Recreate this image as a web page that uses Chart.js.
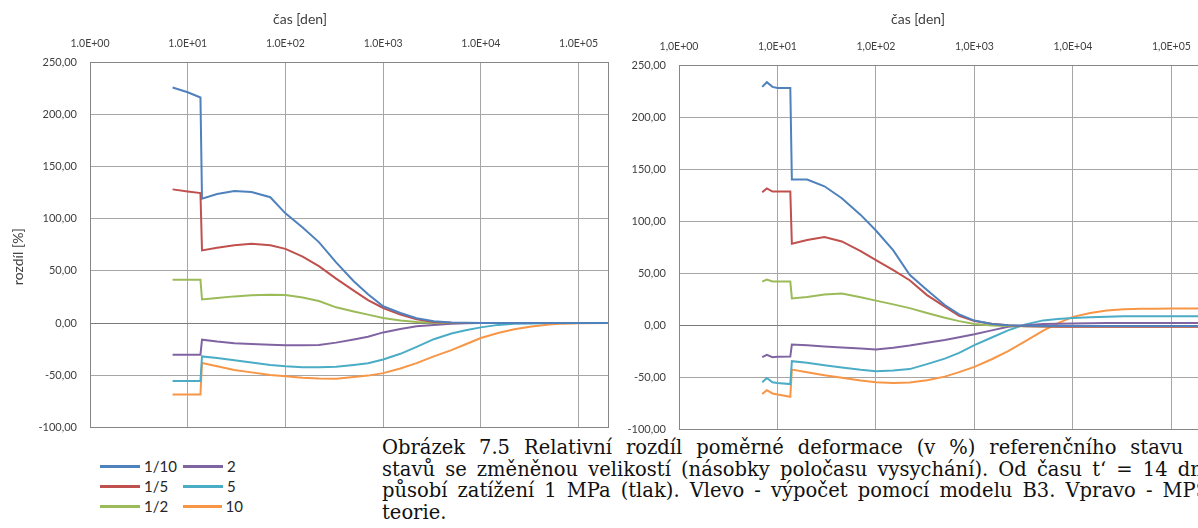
<!DOCTYPE html>
<html lang="cs">
<head>
<meta charset="utf-8">
<title>Relativní rozdíl poměrné deformace</title>
<script src="https://cdn.jsdelivr.net/npm/chart.js@4.4.1/dist/chart.umd.min.js"></script>
<style>
  html, body { margin: 0; padding: 0; background: #fff; }
  body { width: 1198px; height: 528px; overflow: hidden; position: relative; }
  #boxL { position: absolute; left: 0; top: 0; width: 612px; height: 434px; }
  #boxR { position: absolute; left: 612px; top: 0; width: 600px; height: 436px; }
  canvas { display: block; }
  #legend {
    position: absolute; left: 100px; top: 456px;
    display: grid; grid-auto-flow: column;
    grid-template-rows: repeat(3, 20px); grid-template-columns: 83px 60px;
    font: 15px Lato, sans-serif; color: #262626;
  }
  .item { display: flex; align-items: center; white-space: nowrap; }
  .swatch { width: 40px; height: 3px; margin-right: 4px; }
  #caption {
    position: absolute; left: 382px; top: 437px; width: 827px;
    font: 19.5px "DejaVu Serif", serif; line-height: 21.5px; color: #111;
  }
  #caption .ln { white-space: nowrap; text-align: justify; text-align-last: justify; }
  #caption .ln.last { text-align: left; text-align-last: left; }
</style>
</head>
<body>
<div id="boxL"><canvas id="chartL" width="612" height="434"></canvas></div>
<div id="boxR"><canvas id="chartR" width="600" height="436"></canvas></div>
<div id="legend"></div>
<div id="caption">
  <div class="ln">Obrázek 7.5 Relativní rozdíl poměrné deformace (v %) referenčního stavu a</div>
  <div class="ln">stavů se změněnou velikostí (násobky poločasu vysychání). Od času t‘ = 14 dní</div>
  <div class="ln">působí zatížení 1 MPa (tlak). Vlevo - výpočet pomocí modelu B3. Vpravo - MPS</div>
  <div class="ln last">teorie.</div>
</div>
<script>
// ---- series names and colours ----
const seriesNames  = ['1/10', '1/5', '1/2', '2', '5', '10'];
const seriesColors = ['#4F81BD', '#C0504D', '#9BBB59', '#8064A2', '#4BACC6', '#F79646'];

// ---- axis ticks ----
const timeDecades     = [1, 10, 100, 1000, 10000, 100000];
const timeLabelsLeft  = ['1.0E+00', '1.0E+01', '1.0E+02', '1.0E+03', '1.0E+04', '1.0E+05'];
const timeLabelsRight = ['1,0E+00', '1,0E+01', '1,0E+02', '1,0E+03', '1,0E+04', '1,0E+05'];
const diffTicks       = [-100, -50, 0, 50, 100, 150, 200, 250];

// ---- left panel: model B3 (time in days, difference in %) ----
const timeB3 = [7, 10, 13.5, 14, 20, 30, 45, 70, 100, 150, 220, 330, 500, 700,
                1000, 1500, 2200, 3300, 5000, 7000, 10000, 15000, 22000, 33000,
                50000, 70000, 100000, 200000];
const b3_1_10 = [225.5, 221, 216, 119, 123.5, 126.5, 125.5, 120.5, 105, 91.5, 77.5, 58, 40, 27.5,
                 16, 9.6, 4.5, 1.6, 0.5, 0.2, 0.1, 0, 0, 0, 0, 0, 0, 0];
const b3_1_5  = [128, 126, 124.5, 69.5, 72, 74.5, 76, 74.5, 71, 63.5, 54.5, 42.5, 31, 22,
                 14.4, 8, 3.5, 1, 0.3, 0.1, 0, 0, 0, 0, 0, 0, 0, 0];
const b3_1_2  = [41.5, 41.5, 41.5, 22.5, 24, 25.5, 26.5, 27, 26.8, 24.5, 21, 15, 11, 8,
                 4.8, 2.4, 0.9, 0.3, 0.1, 0, 0, 0, 0, 0, 0, 0, 0, 0];
const b3_2    = [-30.4, -30.4, -30.4, -16, -17.8, -19.3, -20.2, -20.8, -21.2, -21.4, -21, -18.8, -15.8, -13.2,
                 -9, -5.8, -3.2, -1.8, -0.7, -0.3, -0.1, 0, 0, 0, 0, 0, 0, 0];
const b3_5    = [-55.5, -55.5, -55.5, -32, -33.6, -35.6, -37.8, -40.2, -41.5, -42.3, -42.5, -42, -40.2, -38.5,
                 -35, -29.5, -22.8, -15.5, -10.1, -6.9, -4.2, -1.8, -0.8, -0.4, -0.1, 0, 0, 0];
const b3_10   = [-68.5, -68.5, -68.5, -38.3, -41.5, -45, -47.3, -49.7, -51.1, -52.4, -53.2, -53.3, -51.8, -50.4,
                 -48, -43.6, -38.4, -32, -26, -20.4, -14.4, -9.6, -6, -3.3, -1.4, -0.6, -0.2, 0];

// ---- right panel: MPS theory ----
const timeMPS = [7, 7.8, 8.9, 10, 13.5, 14, 20, 30, 45, 70, 100, 150, 220, 330, 500, 700,
                 1000, 1500, 2200, 3300, 5000, 7000, 10000, 15000, 22000, 33000,
                 50000, 70000, 100000, 200000];
const mps_1_10 = [229, 233.5, 229, 228, 228, 140, 140, 133.5, 122, 106, 91, 72, 48.5, 34, 19.5, 10.5,
                  4.5, 1.3, 0, -0.5, -0.7, -0.8, -0.8, -0.8, -0.8, -0.8, -0.8, -0.8, -0.8, -0.8];
const mps_1_5  = [127.7, 131.5, 128.4, 128.4, 128.4, 78.4, 82, 84.7, 80.5, 71.2, 62.5, 53, 43.3, 29, 18, 9,
                  4.2, 1.5, 0, -0.9, -1.2, -1.4, -1.4, -1.4, -1.4, -1.4, -1.4, -1.4, -1.4, -1.4];
const mps_1_2  = [42, 44, 42, 42, 42, 25.8, 27.2, 29.5, 30.6, 27, 23.7, 20.1, 16.5, 11.8, 7.3, 4,
                  1.3, -0.2, -0.8, -1, -1.1, -1.1, -1.1, -1.1, -1.1, -1.1, -1.1, -1.1, -1.1, -1.1];
const mps_2    = [-30.6, -28.4, -30.6, -30.3, -30, -18.4, -19.2, -20.3, -21.3, -22.4, -23.2, -21.5, -19.5, -16.8, -14.2, -11.5,
                  -8.7, -4.9, -1.5, 0.1, 1.2, 1.5, 1.7, 2, 2.1, 2.2, 2.3, 2.3, 2.3, 2.3];
const mps_5    = [-54.8, -50.6, -54.8, -55.5, -56.5, -34.5, -36, -38.3, -40.5, -42.8, -44.2, -43.5, -42.1, -37.3, -32, -26.5,
                  -19, -11.7, -4.9, 0.9, 4.7, 6.1, 7.1, 7.8, 8.3, 8.6, 8.7, 8.7, 8.7, 8.7];
const mps_10   = [-66, -62.3, -65.5, -66.5, -68.7, -42.6, -45.1, -47.9, -50.4, -53.1, -54.6, -55.4, -55, -52.7, -49.3, -45,
                  -40, -32.6, -24.8, -15.3, -5.2, 1.9, 8.1, 11.8, 14.3, 15.5, 15.9, 16, 16.1, 16.1];

const FONT = 'Lato, sans-serif';
const TEXT = '#404040';
const GRID = '#a6a6a6';
const FRAME = '#868686';

// closed frame around the plot area
const plotFrame = {
  id: 'plotFrame',
  afterDraw(chart) {
    const { ctx, chartArea: a } = chart;
    ctx.save();
    ctx.strokeStyle = FRAME;
    ctx.lineWidth = 1;
    const l = Math.round(a.left) + 0.5, t = Math.round(a.top) + 0.5;
    const r = Math.round(a.right) + 0.5, b = Math.round(a.bottom) + 0.5;
    ctx.strokeRect(l, t, r - l, b - t);
    ctx.restore();
  }
};

// axis captions: time caption above the labels, optional rotated value caption
const axisCaption = {
  id: 'axisCaption',
  afterDraw(chart, args, o) {
    const { ctx, chartArea: a } = chart;
    ctx.save();
    ctx.font = o.size + 'px ' + FONT;
    ctx.fillStyle = TEXT;
    ctx.textAlign = 'center';
    ctx.textBaseline = 'middle';
    ctx.fillText(o.text, (a.left + a.right) / 2 + o.shift, o.y);
    if (o.side) {
      ctx.translate(o.side.x, (a.top + a.bottom) / 2 + o.side.shift);
      ctx.rotate(-Math.PI / 2);
      ctx.fillText(o.side.text, 0, 0);
    }
    ctx.restore();
  }
};

function buildDatasets(times, columns) {
  return columns.map((vals, i) => ({
    label: seriesNames[i],
    data: times.map((t, k) => ({ x: t, y: vals[k] })),
    borderColor: seriesColors[i],
    backgroundColor: seriesColors[i],
    borderWidth: 2,
    pointRadius: 0,
    tension: 0,
    fill: false
  }));
}

function makeChart(id, times, columns, timeLabels, layout) {
  return new Chart(document.getElementById(id), {
    type: 'line',
    data: { datasets: buildDatasets(times, columns) },
    plugins: [plotFrame, axisCaption],
    options: {
      responsive: false,
      maintainAspectRatio: false,
      animation: false,
      devicePixelRatio: 1,
      layout: { padding: { top: 0, left: 0, right: layout.padRight, bottom: 0 } },
      plugins: {
        legend: { display: false },
        tooltip: { enabled: false },
        axisCaption: { text: 'čas [den]', y: 19, size: 14, shift: layout.captionShift, side: layout.side }
      },
      scales: {
        x: {
          type: 'logarithmic',
          position: 'top',
          min: 1,
          max: 200000,
          afterBuildTicks: s => { s.ticks = timeDecades.map(v => ({ value: v })); },
          afterFit: s => { s.height = layout.top; },
          ticks: {
            autoSkip: false, maxRotation: 0, padding: 12,
            color: TEXT, font: { family: FONT, size: 10.5 },
            callback: (v, i) => timeLabels[i]
          },
          grid: { color: GRID, lineWidth: 1, drawTicks: false },
          border: { display: false }
        },
        y: {
          type: 'linear',
          min: diffTicks[0],
          max: diffTicks[diffTicks.length - 1],
          afterBuildTicks: s => { s.ticks = diffTicks.map(v => ({ value: v })); },
          afterFit: s => { s.width = layout.left; },
          ticks: {
            padding: 0, color: TEXT, font: { family: FONT, size: 11 },
            callback: v => v.toFixed(2).replace('.', ',')
          },
          grid: {
            color: c => (c.tick && c.tick.value === 0 ? '#7a7a7a' : GRID),
            lineWidth: 1,
            drawTicks: true, tickLength: 13, tickColor: 'rgba(0,0,0,0)'
          },
          border: { display: false }
        }
      }
    }
  });
}

const chartL = makeChart('chartL', timeB3,
  [b3_1_10, b3_1_5, b3_1_2, b3_2, b3_5, b3_10], timeLabelsLeft,
  { top: 62, left: 90, padRight: 4, captionShift: -49,
    side: { text: 'rozdíl [%]', x: 18, shift: 12 } });

const chartR = makeChart('chartR', timeMPS,
  [mps_1_10, mps_1_5, mps_1_2, mps_2, mps_5, mps_10], timeLabelsRight,
  { top: 65, left: 67, padRight: 11, captionShift: -22, side: null });

// legend built from the left panel's datasets, filled column by column
const legendEl = document.getElementById('legend');
chartL.data.datasets.forEach(ds => {
  const item = document.createElement('div');
  item.className = 'item';
  const sw = document.createElement('span');
  sw.className = 'swatch';
  sw.style.background = ds.borderColor;
  const tx = document.createElement('span');
  tx.textContent = ds.label;
  item.appendChild(sw);
  item.appendChild(tx);
  legendEl.appendChild(item);
});
</script>
</body>
</html>
